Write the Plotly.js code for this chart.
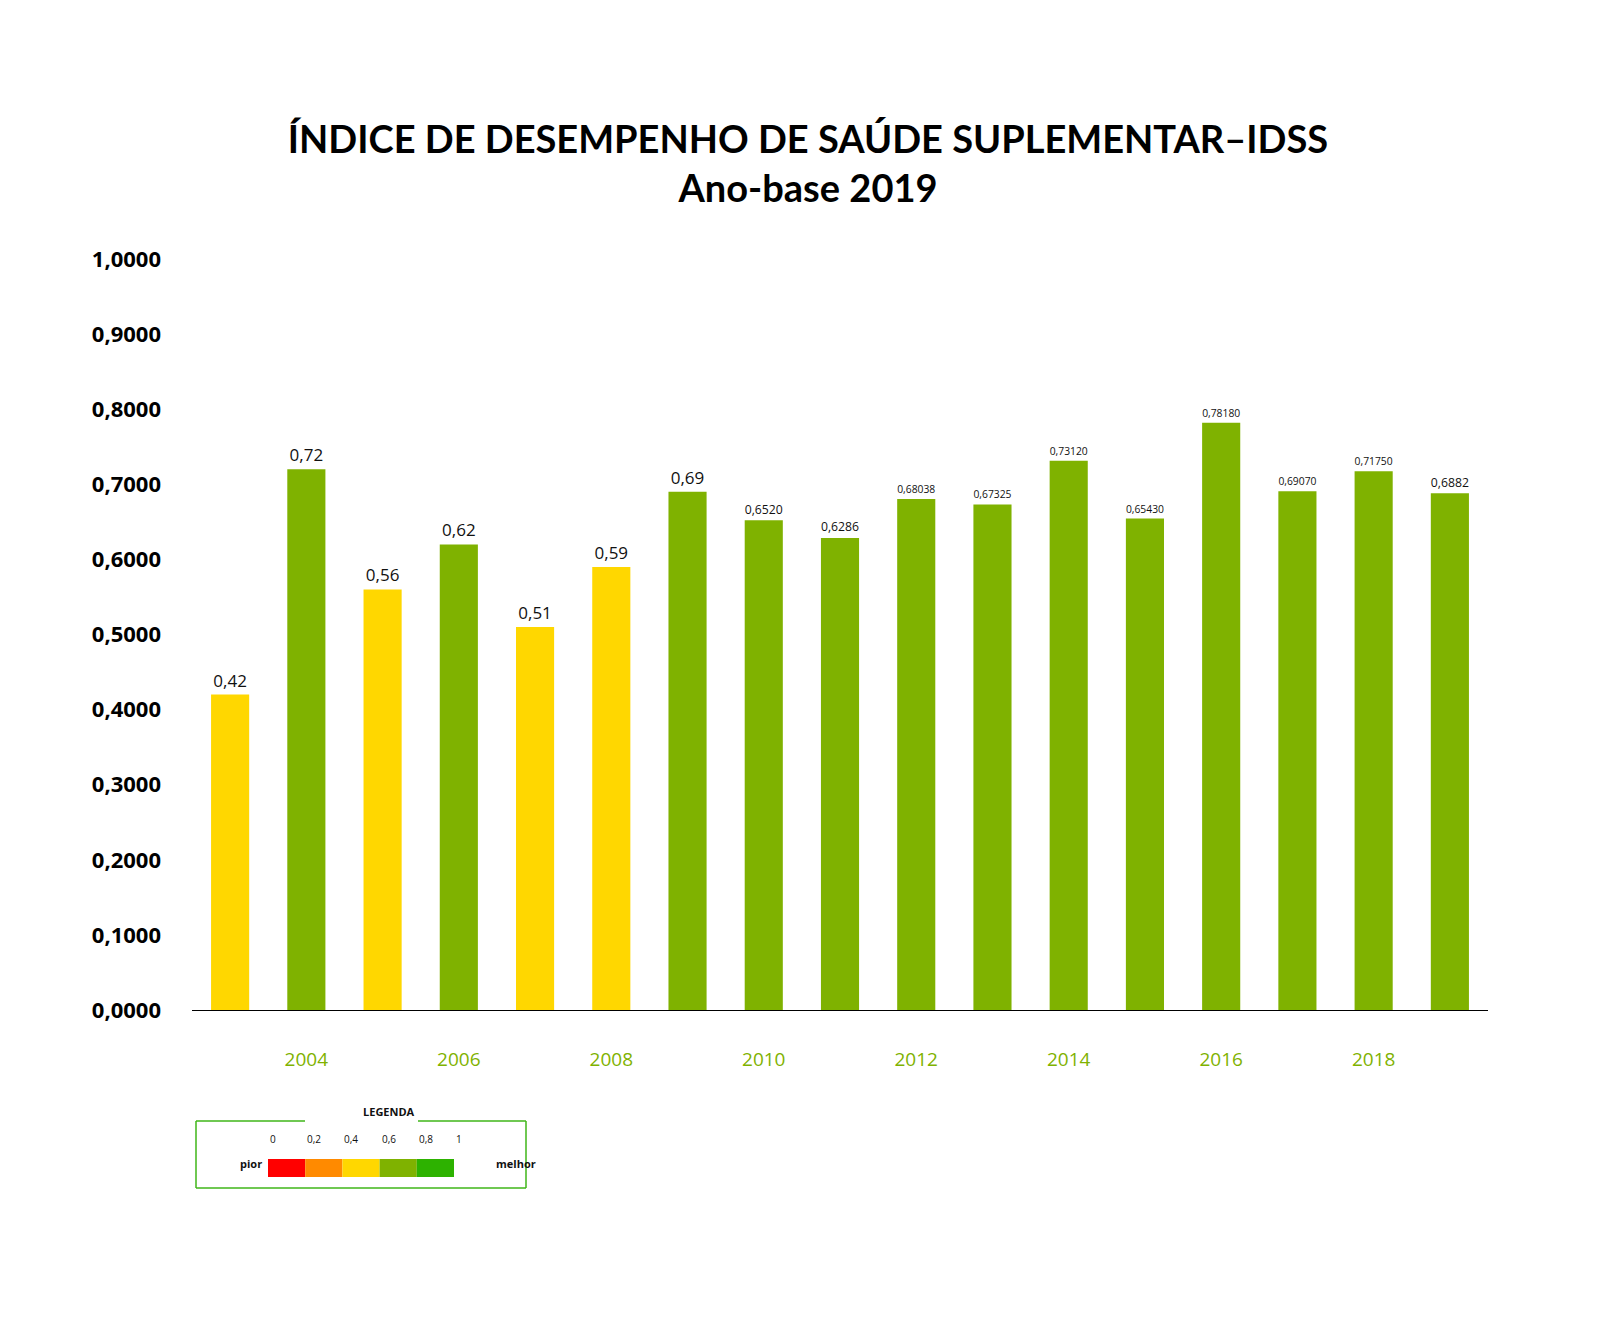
<!DOCTYPE html>
<html>
<head>
<meta charset="utf-8">
<script src="https://cdn.plot.ly/plotly-3.0.1.min.js"></script>
<style>body{margin:0;background:#fff}</style>
</head>
<body>
<div id="idss" style="width:1600px;height:1327px"></div>
<script>
// IDSS ano-base 2019
const years = ["2003","2004","2005","2006","2007","2008","2009","2010","2011","2012","2013","2014","2015","2016","2017","2018","2019"];
const values = [0.42, 0.72, 0.56, 0.62, 0.51, 0.59, 0.69, 0.6520, 0.6286, 0.68038, 0.67325, 0.73120, 0.65430, 0.78180, 0.69070, 0.71750, 0.6882];
const labels = ["0,42","0,72","0,56","0,62","0,51","0,59","0,69","0,6520","0,6286","0,68038","0,67325","0,73120","0,65430","0,78180","0,69070","0,71750","0,6882"];
const yTicks = [0,0.1,0.2,0.3,0.4,0.5,0.6,0.7,0.8,0.9,1];
const yTickText = ["0,0000","0,1000","0,2000","0,3000","0,4000","0,5000","0,6000","0,7000","0,8000","0,9000","1,0000"];
const scaleLabels = ["0","0,2","0,4","0,6","0,8","1"];
const scaleColors = ["#ff0000","#ff8a00","#ffd700","#7fb200","#2db200"];

const YELLOW = "#ffd700", GREEN = "#7fb200";
const barColors = values.map(v => v < 0.6 ? YELLOW : GREEN);

// pixel -> paper helpers
const px = x => (x - 192) / 1296;
const py = y => (1010 - y) / 751;

const data = [{
  type: "bar",
  x: years,
  y: values,
  text: labels,
  textposition: "outside",
  cliponaxis: false,
  textfont: {size: 17, color: "#111", family: "Open Sans"},
  marker: {color: barColors},
  hoverinfo: "none"
}];

const shapes = [];
const annotations = [];
const boxLine = {color: "#3fb618", width: 1.5};
// legend box with gap for the title
[[196,1121,305,1121],[418,1121,526,1121],[196,1121,196,1188],[526,1121,526,1188],[196,1188,526,1188]].forEach(s => {
  shapes.push({type: "line", xref: "paper", yref: "paper", x0: px(s[0]), y0: py(s[1]), x1: px(s[2]), y1: py(s[3]), line: boxLine});
});
scaleColors.forEach((c, i) => {
  shapes.push({type: "rect", xref: "paper", yref: "paper", x0: px(268 + i * 37.2), x1: px(268 + (i + 1) * 37.2),
    y0: py(1177), y1: py(1159), fillcolor: c, line: {width: 0}});
});
scaleLabels.forEach((t, i) => {
  annotations.push({xref: "paper", yref: "paper", x: px(268 + i * 37.2), y: py(1148), text: t, showarrow: false,
    font: {size: 10, color: "#111", family: "Open Sans"}});
});
annotations.push({xref: "paper", yref: "paper", x: px(361), y: py(1121), text: "<b>LEGENDA</b>", showarrow: false,
  font: {size: 11, color: "#111", family: "Open Sans"}});
annotations.push({xref: "paper", yref: "paper", x: px(238), y: py(1173), text: "<b>pior</b>", showarrow: false,
  font: {size: 11, color: "#111", family: "Open Sans"}});
annotations.push({xref: "paper", yref: "paper", x: px(494), y: py(1173), text: "<b>melhor</b>", showarrow: false,
  font: {size: 11, color: "#111", family: "Open Sans"}});

const layout = {
  width: 1600, height: 1327,
  margin: {t: 259, l: 192, r: 112, b: 317},
  paper_bgcolor: "#fff", plot_bgcolor: "#fff",
  title: {text: "<b>ÍNDICE DE DESEMPENHO DE SAÚDE SUPLEMENTAR–IDSS<br>Ano-base 2019</b>",
    x: 0.505, xanchor: "center", y: 0.885, yanchor: "middle",
    font: {size: 38, color: "#000", family: "Lato"}},
  bargap: 0.5,
  showlegend: false,
  xaxis: {showgrid: false, showline: true, linecolor: "#000", linewidth: 1, ticks: "",
    ticklabelstandoff: 32, tickfont: {size: 19, color: GREEN, family: "Open Sans"}, fixedrange: true},
  yaxis: {range: [0, 1], tickvals: yTicks, ticktext: yTickText, showgrid: false, zeroline: false,
    showline: false, ticks: "", ticklabelstandoff: 30,
    tickfont: {size: 22, color: "#000", family: "Open Sans", weight: "bold"}},
  shapes: shapes,
  annotations: annotations
};

Plotly.newPlot("idss", data, layout, {displayModeBar: false, staticPlot: true});
</script>
</body>
</html>
